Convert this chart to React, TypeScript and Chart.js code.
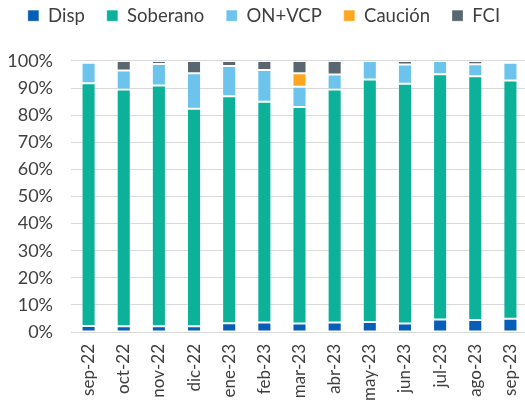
import React, { useEffect, useRef } from "react";
import { Chart, registerables } from "chart.js";

Chart.register(...registerables);

const categories = ["sep-22", "oct-22", "nov-22", "dic-22", "ene-23", "feb-23", "mar-23", "abr-23", "may-23", "jun-23", "jul-23", "ago-23", "sep-23"];
const disp = [2.2, 2.1, 2.1, 2.1, 3.2, 3.5, 3.1, 3.5, 3.7, 3.1, 4.6, 4.4, 4.9];
const soberano = [89.6, 87.4, 88.9, 80.3, 83.8, 81.5, 79.9, 86.0, 89.5, 88.5, 90.5, 90.0, 87.9];
const onVcp = [7.6, 7.0, 7.9, 13.1, 11.2, 11.7, 7.5, 5.5, 6.8, 7.1, 4.9, 4.4, 6.6];
const caucion = [0, 0, 0, 0, 0, 0, 5.0, 0, 0, 0, 0, 0, 0];
const fci = [0.6, 3.5, 1.1, 4.5, 1.8, 3.3, 4.5, 5.0, 0, 1.3, 0, 1.2, 0.6];

const seriesNames = ["Disp", "Soberano", "ON+VCP", "Caución", "FCI"];
const seriesColors = ["#075EB9", "#0BB199", "#6CC3EB", "#FFA621", "#5A6670"];

const LEGEND_PAD = 22;
const LAYOUT_TOP = -15.6;
const LEGEND_HEIGHT = 76.6;

const legendHeightPlugin = {
  id: "legendHeight",
  beforeLayout(chart: any) {
    const lg = chart.legend;
    if (lg && !lg.__patched) {
      const orig = lg.fit;
      lg.fit = function () {
        orig.call(this);
        this.height = LEGEND_HEIGHT;
      };
      lg.__patched = true;
    }
  },
};

export default function App() {
  const ref = useRef<HTMLCanvasElement | null>(null);
  useEffect(() => {
    if (!ref.current) return;
    const values = [disp, soberano, onVcp, caucion, fci];
    const chart = new Chart(ref.current, {
      type: "bar",
      data: {
        labels: categories,
        datasets: values.map((v, i) => ({
          label: seriesNames[i],
          data: v,
          backgroundColor: seriesColors[i],
          borderColor: "rgba(255,255,255,0.3)",
          borderWidth: 1,
          borderSkipped: false,
          barPercentage: 0.4,
          categoryPercentage: 1,
        })),
      },
      plugins: [legendHeightPlugin],
      options: {
        responsive: false,
        animation: false,
        layout: { padding: { left: 0, right: 2, top: LAYOUT_TOP, bottom: 0 } },
        plugins: {
          legend: {
            position: "top",
            labels: {
              font: { family: "Lato", size: 18.5 },
              color: "#404040",
              boxWidth: 11,
              boxHeight: 11,
              padding: LEGEND_PAD,
            },
          },
          tooltip: { enabled: false },
        },
        scales: {
          x: {
            stacked: true,
            grid: { display: false, drawTicks: false },
            border: { display: false },
            ticks: {
              font: { family: "Lato", size: 17 },
              color: "#404040",
              maxRotation: 90,
              minRotation: 90,
              padding: 12,
            },
            afterFit: (s: any) => {
              s.height = 73;
              s.paddingLeft = 0;
              s.paddingRight = 0;
            },
          },
          y: {
            stacked: true,
            min: 0,
            max: 100,
            grid: { color: "#D9D9D9", lineWidth: 1, drawTicks: false },
            border: { display: false },
            ticks: {
              font: { family: "Lato", size: 18 },
              color: "#404040",
              stepSize: 10,
              padding: 18,
              callback: (v: any) => v + "%",
            },
            afterFit: (s: any) => {
              s.width = 71;
            },
          },
        },
      },
    });
    return () => chart.destroy();
  }, []);
  return (
    <div style={{ position: "fixed", left: 0, top: 0, width: 525, height: 405, overflow: "hidden" }}>
      <canvas ref={ref} width={530} height={405} style={{ display: "block" }} />
    </div>
  );
}
